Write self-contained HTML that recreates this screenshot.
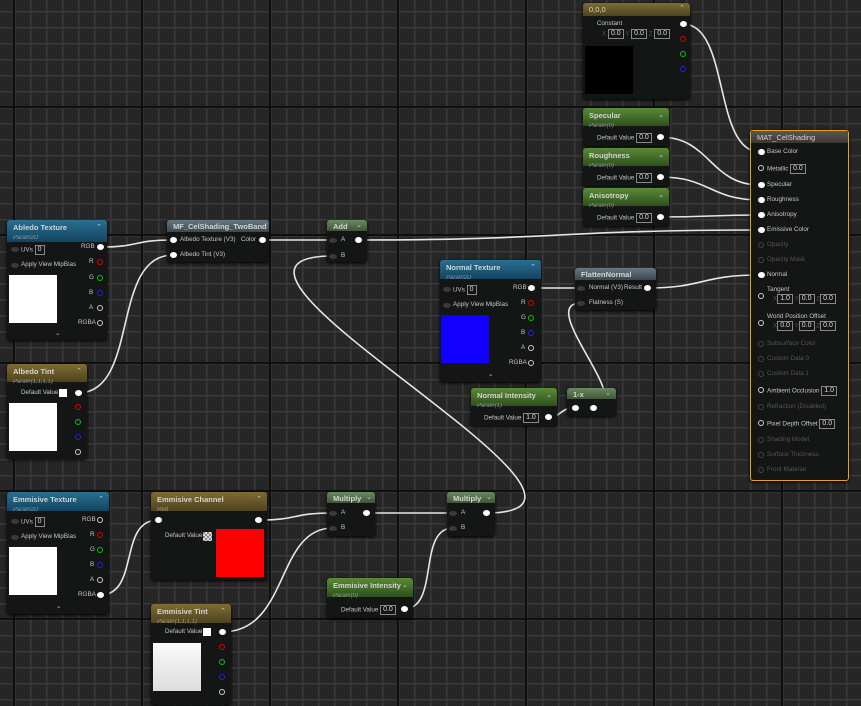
<!DOCTYPE html>
<html><head><meta charset="utf-8">
<style>
*{margin:0;padding:0;box-sizing:border-box}
body{width:861px;height:706px;overflow:hidden;position:relative;font-family:"Liberation Sans",sans-serif;
background-color:#262626;
background-image:
linear-gradient(90deg,#0f0f0f 0 2px,transparent 2px),
linear-gradient(180deg,#0f0f0f 0 2px,transparent 2px),
linear-gradient(90deg,#3a3a3a 0 1.5px,transparent 1.5px),
linear-gradient(180deg,#3a3a3a 0 1.5px,transparent 1.5px);
background-size:128px 128px,128px 128px,16px 16px,16px 16px;
background-position:13px 0,0 106px,14px 0,0 11px;}
svg{position:absolute;left:0;top:0}
.n{position:absolute;background:#141515;border-radius:3px;box-shadow:0 1px 3px #000}
.h{position:absolute;left:0;top:0;right:0;border-radius:3px 3px 0 0;color:#d4d4d4;font-weight:bold;font-size:7.5px;padding:3px 0 0 6px;white-space:nowrap}
.s{display:block;font-weight:normal;font-style:italic;font-size:6px;margin-top:3px;opacity:.55}
.bl{background:linear-gradient(180deg,#2a6f92,#134460)}
.go{background:linear-gradient(180deg,#7e6c32,#4e4320)}
.gr{background:linear-gradient(180deg,#5a8a38,#2e4f1c)}
.gy{background:linear-gradient(180deg,#667782,#3c4850)}
.gg{background:linear-gradient(180deg,#6c8a62,#3e5636)}
.c{position:absolute;right:5px;top:3px;font-size:7px;color:#ccc;font-weight:normal}
.t{position:absolute;font-size:6.3px;color:#c8c8c8;white-space:nowrap;line-height:8px}
.d{color:#555}
.p{position:absolute;width:7px;height:6px;margin:-3px 0 0 -3px;border-radius:50%;background:#fff}
.o{position:absolute;width:6px;height:6px;margin:-3px 0 0 -3px;border-radius:50%;border:1.3px solid #ccc}
.i{position:absolute;width:8px;height:5px;margin:-2.5px 0 0 -4px;border-radius:50%;background:#3a3a3a}
.bx{display:inline-block;border:1px solid #888;padding:0 2px;line-height:8px;font-size:7px;color:#ddd;vertical-align:middle}
.sq{position:absolute}
</style></head><body>
<svg width="861" height="706" fill="none" stroke="#e6e6e6" stroke-width="1.6">
<path d="M100 247 C140 247 133 240 173 240"/>
<path d="M78 393 C140 393 110 255 173 255"/>
<path d="M262 240 C300 240 295 240 333 240"/>
<path d="M358 240 C560 240 560 230 760 230"/>
<path d="M683 24 C730 24 713 152 760 152"/>
<path d="M660 137 C710 137 710 185 760 185"/>
<path d="M660 177 C710 177 710 200 760 200"/>
<path d="M660 217 C710 217 710 215 760 215"/>
<path d="M647 288 C705 288 700 275 760 275"/>
<path d="M531 288 C555 288 557 288 581 288"/>
<path d="M548 417 C562 417 560 408 574 408"/>
<path d="M593 408 C640 408 534 303 581 303"/>
<path d="M486 513 C666 513 153 256 333 256"/>
<path d="M100 595 C140 595 118 520 158 520"/>
<path d="M258 520 C300 520 291 513 333 513"/>
<path d="M222 632 C290 632 275 528 333 528"/>
<path d="M366 513 C410 513 409 513 453 513"/>
<path d="M404 609 C440 609 417 528 453 528"/>
</svg>

<!-- Albedo Texture -->
<div class="n" style="left:7px;top:220px;width:100px;height:120px"><div class="h bl" style="height:22px">Abledo Texture<span class="s">Param2D</span><span class="c">⌃</span></div></div>
<i class="i" style="left:15px;top:249px"></i><div class="t" style="left:21px;top:245px">UVs <span class="bx">0</span></div>
<i class="i" style="left:15px;top:265px"></i><div class="t" style="left:21px;top:261px">Apply View MipBias</div>
<div class="sq" style="left:9px;top:275px;width:48px;height:48px;background:#fff"></div>
<div class="t" style="left:81px;top:243px">RGB</div><i class="p" style="left:100px;top:247px"></i>
<div class="t" style="left:89px;top:258px">R</div><i class="o" style="left:100px;top:262px;border-color:#d00"></i>
<div class="t" style="left:89px;top:274px">G</div><i class="o" style="left:100px;top:278px;border-color:#0c0"></i>
<div class="t" style="left:89px;top:289px">B</div><i class="o" style="left:100px;top:293px;border-color:#22e"></i>
<div class="t" style="left:89px;top:304px">A</div><i class="o" style="left:100px;top:308px"></i>
<div class="t" style="left:78px;top:319px">RGBA</div><i class="o" style="left:100px;top:323px"></i>
<div class="t" style="left:55px;top:330px">⌄</div>

<!-- Albedo Tint -->
<div class="n" style="left:7px;top:364px;width:80px;height:95px"><div class="h go" style="height:18px">Albedo Tint<span class="s">Param(1,1,1,1)</span><span class="c">⌃</span></div></div>
<div class="t" style="left:21px;top:389px">Default Value</div><div class="sq" style="left:59px;top:389px;width:8px;height:8px;background:#fff"></div>
<div class="sq" style="left:9px;top:403px;width:48px;height:48px;background:#fff"></div>
<i class="p" style="left:78px;top:393px"></i><i class="o" style="left:78px;top:407px;border-color:#d00"></i><i class="o" style="left:78px;top:422px;border-color:#0c0"></i><i class="o" style="left:78px;top:437px;border-color:#22e"></i><i class="o" style="left:78px;top:452px"></i>

<!-- MF -->
<div class="n" style="left:167px;top:220px;width:102px;height:42px"><div class="h gy" style="height:12px;padding-top:2px">MF_CelShading_TwoBand</div></div>
<i class="p" style="left:173px;top:240px"></i><div class="t" style="left:180px;top:236px">Albedo Texture (V3)</div>
<i class="p" style="left:173px;top:255px"></i><div class="t" style="left:180px;top:251px">Albedo Tint (V3)</div>
<div class="t" style="left:241px;top:236px">Color</div><i class="p" style="left:262px;top:240px"></i>

<!-- Add -->
<div class="n" style="left:327px;top:220px;width:40px;height:42px"><div class="h gg" style="height:11px;padding-top:2px">Add<span class="c" style="top:1px">⌄</span></div></div>
<i class="i" style="left:333px;top:240px"></i><div class="t" style="left:341px;top:236px">A</div><i class="p" style="left:358px;top:240px"></i>
<i class="i" style="left:333px;top:256px"></i><div class="t" style="left:341px;top:252px">B</div>

<!-- Normal Texture -->
<div class="n" style="left:440px;top:260px;width:101px;height:122px"><div class="h bl" style="height:19px">Normal Texture<span class="s">Param2D</span><span class="c">⌃</span></div></div>
<i class="i" style="left:447px;top:289px"></i><div class="t" style="left:453px;top:285px">UVs <span class="bx">0</span></div>
<i class="i" style="left:447px;top:305px"></i><div class="t" style="left:453px;top:301px">Apply View MipBias</div>
<div class="sq" style="left:441px;top:315px;width:48px;height:48px;background:#10f"></div>
<div class="t" style="left:513px;top:284px">RGB</div><i class="p" style="left:531px;top:288px"></i>
<div class="t" style="left:521px;top:299px">R</div><i class="o" style="left:531px;top:303px;border-color:#d00"></i>
<div class="t" style="left:521px;top:314px">G</div><i class="o" style="left:531px;top:318px;border-color:#0c0"></i>
<div class="t" style="left:521px;top:329px">B</div><i class="o" style="left:531px;top:333px;border-color:#22e"></i>
<div class="t" style="left:521px;top:344px">A</div><i class="o" style="left:531px;top:348px"></i>
<div class="t" style="left:509px;top:359px">RGBA</div><i class="o" style="left:531px;top:363px"></i>
<div class="t" style="left:488px;top:371px">⌄</div>

<!-- FlattenNormal -->
<div class="n" style="left:575px;top:268px;width:81px;height:42px"><div class="h gy" style="height:12px;padding-top:2px">FlattenNormal</div></div>
<i class="i" style="left:581px;top:288px"></i><div class="t" style="left:589px;top:284px">Normal (V3)</div>
<div class="t" style="left:624px;top:284px">Result</div><i class="p" style="left:647px;top:288px"></i>
<i class="i" style="left:581px;top:303px"></i><div class="t" style="left:589px;top:299px">Flatness (S)</div>

<!-- Normal Intensity -->
<div class="n" style="left:471px;top:388px;width:86px;height:38px"><div class="h gr" style="height:18px">Normal Intensity<span class="s">Param(1)</span><span class="c">⌄</span></div></div>
<div class="t" style="left:484px;top:413px">Default Value <span class="bx">1.0</span></div><i class="p" style="left:548px;top:417px"></i>

<!-- 1-x -->
<div class="n" style="left:567px;top:388px;width:49px;height:28px"><div class="h gg" style="height:11px;padding-top:2px">1-x<span class="c" style="top:1px">⌄</span></div></div>
<i class="p" style="left:575px;top:408px"></i><i class="p" style="left:593px;top:408px"></i>

<!-- 0,0,0 -->
<div class="n" style="left:583px;top:3px;width:107px;height:96px"><div class="h go" style="height:13px;font-weight:normal;padding-top:2px">0,0,0<span class="c" style="top:1px">⌃</span></div></div>
<div class="t" style="left:597px;top:20px">Constant</div>
<div class="t" style="left:602px;top:29px"><span class="d">X</span> <span class="bx">0.0</span> <span class="d">Y</span> <span class="bx">0.0</span> <span class="d">Z</span> <span class="bx">0.0</span></div>
<div class="sq" style="left:585px;top:46px;width:48px;height:48px;background:#000"></div>
<i class="p" style="left:683px;top:24px"></i><i class="o" style="left:683px;top:39px;border-color:#d00"></i><i class="o" style="left:683px;top:54px;border-color:#0c0"></i><i class="o" style="left:683px;top:69px;border-color:#22e"></i>

<!-- Specular / Roughness / Anisotropy -->
<div class="n" style="left:583px;top:108px;width:86px;height:38px"><div class="h gr" style="height:18px">Specular<span class="s">Param(0)</span><span class="c">⌄</span></div></div>
<div class="t" style="left:597px;top:133px">Default Value <span class="bx">0.0</span></div><i class="p" style="left:660px;top:137px"></i>
<div class="n" style="left:583px;top:148px;width:86px;height:38px"><div class="h gr" style="height:18px">Roughness<span class="s">Param(0)</span><span class="c">⌄</span></div></div>
<div class="t" style="left:597px;top:173px">Default Value <span class="bx">0.0</span></div><i class="p" style="left:660px;top:177px"></i>
<div class="n" style="left:583px;top:188px;width:86px;height:38px"><div class="h gr" style="height:18px">Anisotropy<span class="s">Param(0)</span><span class="c">⌄</span></div></div>
<div class="t" style="left:597px;top:213px">Default Value <span class="bx">0.0</span></div><i class="p" style="left:660px;top:217px"></i>

<!-- MAT -->
<div class="n" style="left:750px;top:130px;width:99px;height:351px;border:1.5px solid #e8a020"><div class="h" style="height:12px;background:linear-gradient(180deg,#5c5650,#3a3633);padding-top:2px;font-weight:normal">MAT_CelShading</div></div>
<i class="p" style="left:761px;top:152px"></i><div class="t" style="left:767px;top:148px">Base Color</div>
<i class="o" style="left:761px;top:168px"></i><div class="t" style="left:767px;top:164px">Metallic <span class="bx">0.0</span></div>
<i class="p" style="left:761px;top:185px"></i><div class="t" style="left:767px;top:181px">Specular</div>
<i class="p" style="left:761px;top:200px"></i><div class="t" style="left:767px;top:196px">Roughness</div>
<i class="p" style="left:761px;top:215px"></i><div class="t" style="left:767px;top:211px">Anisotropy</div>
<i class="p" style="left:761px;top:230px"></i><div class="t" style="left:767px;top:226px">Emissive Color</div>
<i class="o" style="left:761px;top:245px;border-color:#444"></i><div class="t d" style="left:767px;top:241px">Opacity</div>
<i class="o" style="left:761px;top:260px;border-color:#444"></i><div class="t d" style="left:767px;top:256px">Opacity Mask</div>
<i class="p" style="left:761px;top:275px"></i><div class="t" style="left:767px;top:271px">Normal</div>
<i class="o" style="left:761px;top:296px"></i><div class="t" style="left:767px;top:286px">Tangent</div>
<div class="t" style="left:773px;top:294px"><span class="d">X</span><span class="bx">1.0</span> <span class="d">Y</span><span class="bx">0.0</span> <span class="d">Z</span><span class="bx">0.0</span></div>
<i class="o" style="left:761px;top:323px"></i><div class="t" style="left:767px;top:313px">World Position Offset</div>
<div class="t" style="left:773px;top:321px"><span class="d">X</span><span class="bx">0.0</span> <span class="d">Y</span><span class="bx">0.0</span> <span class="d">Z</span><span class="bx">0.0</span></div>
<i class="o" style="left:761px;top:344px;border-color:#444"></i><div class="t d" style="left:767px;top:340px">Subsurface Color</div>
<i class="o" style="left:761px;top:359px;border-color:#444"></i><div class="t d" style="left:767px;top:355px">Custom Data 0</div>
<i class="o" style="left:761px;top:374px;border-color:#444"></i><div class="t d" style="left:767px;top:370px">Custom Data 1</div>
<i class="o" style="left:761px;top:390px"></i><div class="t" style="left:767px;top:386px">Ambient Occlusion <span class="bx">1.0</span></div>
<i class="o" style="left:761px;top:407px;border-color:#444"></i><div class="t d" style="left:767px;top:403px">Refraction (Disabled)</div>
<i class="o" style="left:761px;top:423px"></i><div class="t" style="left:767px;top:419px">Pixel Depth Offset <span class="bx">0.0</span></div>
<i class="o" style="left:761px;top:440px;border-color:#444"></i><div class="t d" style="left:767px;top:436px">Shading Model</div>
<i class="o" style="left:761px;top:455px;border-color:#444"></i><div class="t d" style="left:767px;top:451px">Surface Thickness</div>
<i class="o" style="left:761px;top:470px;border-color:#444"></i><div class="t d" style="left:767px;top:466px">Front Material</div>

<!-- Emmisive Texture -->
<div class="n" style="left:7px;top:492px;width:102px;height:122px"><div class="h bl" style="height:19px">Emmisive Texture<span class="s">Param2D</span><span class="c">⌃</span></div></div>
<i class="i" style="left:15px;top:521px"></i><div class="t" style="left:21px;top:517px">UVs <span class="bx">0</span></div>
<i class="i" style="left:15px;top:537px"></i><div class="t" style="left:21px;top:533px">Apply View MipBias</div>
<div class="sq" style="left:9px;top:547px;width:48px;height:48px;background:#fff"></div>
<div class="t" style="left:82px;top:516px">RGB</div><i class="o" style="left:100px;top:520px"></i>
<div class="t" style="left:90px;top:531px">R</div><i class="o" style="left:100px;top:535px;border-color:#d00"></i>
<div class="t" style="left:90px;top:546px">G</div><i class="o" style="left:100px;top:550px;border-color:#0c0"></i>
<div class="t" style="left:90px;top:561px">B</div><i class="o" style="left:100px;top:565px;border-color:#22e"></i>
<div class="t" style="left:90px;top:576px">A</div><i class="o" style="left:100px;top:580px"></i>
<div class="t" style="left:78px;top:591px">RGBA</div><i class="p" style="left:100px;top:595px"></i>
<div class="t" style="left:56px;top:603px">⌄</div>

<!-- Emmisive Channel -->
<div class="n" style="left:151px;top:492px;width:116px;height:88px"><div class="h go" style="height:19px">Emmisive Channel<span class="s">Red</span><span class="c">⌃</span></div></div>
<i class="p" style="left:158px;top:520px"></i><i class="p" style="left:258px;top:520px"></i>
<div class="t" style="left:165px;top:532px">Default Value</div>
<div class="sq" style="left:203px;top:532px;width:9px;height:9px;background:repeating-conic-gradient(#ddd 0 25%,#888 0 50%) 0 0/4px 4px"></div>
<div class="sq" style="left:216px;top:529px;width:48px;height:48px;background:#f00"></div>

<!-- Emmisive Tint -->
<div class="n" style="left:151px;top:604px;width:80px;height:101px"><div class="h go" style="height:19px">Emmisive Tint<span class="s">Param(1,1,1,1)</span><span class="c">⌃</span></div></div>
<div class="t" style="left:165px;top:628px">Default Value</div><div class="sq" style="left:203px;top:628px;width:8px;height:8px;background:#fff"></div>
<div class="sq" style="left:153px;top:643px;width:48px;height:48px;background:linear-gradient(180deg,#fafafa,#ddd)"></div>
<i class="p" style="left:222px;top:632px"></i><i class="o" style="left:222px;top:647px;border-color:#d00"></i><i class="o" style="left:222px;top:662px;border-color:#0c0"></i><i class="o" style="left:222px;top:677px;border-color:#22e"></i><i class="o" style="left:222px;top:692px"></i>

<!-- Multiply 1 -->
<div class="n" style="left:327px;top:492px;width:48px;height:44px"><div class="h gg" style="height:11px;padding-top:2px">Multiply<span class="c" style="top:1px;right:3px">⌄</span></div></div>
<i class="i" style="left:333px;top:513px"></i><div class="t" style="left:341px;top:509px">A</div><i class="p" style="left:366px;top:513px"></i>
<i class="i" style="left:333px;top:528px"></i><div class="t" style="left:341px;top:524px">B</div>
<!-- Multiply 2 -->
<div class="n" style="left:447px;top:492px;width:48px;height:44px"><div class="h gg" style="height:11px;padding-top:2px">Multiply<span class="c" style="top:1px;right:3px">⌄</span></div></div>
<i class="i" style="left:453px;top:513px"></i><div class="t" style="left:461px;top:509px">A</div><i class="p" style="left:486px;top:513px"></i>
<i class="i" style="left:453px;top:528px"></i><div class="t" style="left:461px;top:524px">B</div>

<!-- Emmisive Intensity -->
<div class="n" style="left:327px;top:578px;width:86px;height:40px"><div class="h gr" style="height:19px">Emmisive Intensity<span class="s">Param(0)</span><span class="c">⌄</span></div></div>
<div class="t" style="left:341px;top:605px">Default Value <span class="bx">0.0</span></div><i class="p" style="left:404px;top:609px"></i>
</body></html>
